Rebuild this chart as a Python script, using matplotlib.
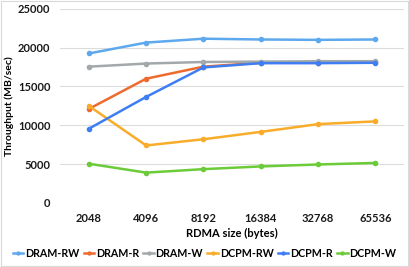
import matplotlib
matplotlib.use("Agg")
import matplotlib.pyplot as plt

sizes = ["2048", "4096", "8192", "16384", "32768", "65536"]
dram_rw = [19250, 20650, 21150, 21050, 21000, 21050]
dram_r = [12100, 16000, 17550, 18050, 18050, 18150]
dram_w = [17550, 17950, 18150, 18200, 18250, 18250]
dcpm_rw = [12500, 7400, 8200, 9150, 10150, 10500]
dcpm_r = [9550, 13650, 17450, 18000, 18000, 18050]
dcpm_w = [5050, 3900, 4350, 4700, 4950, 5150]

series = [
    ("DRAM-RW", dram_rw, "#5EA8EE"),
    ("DRAM-R", dram_r, "#EE6A2E"),
    ("DRAM-W", dram_w, "#A3A9AB"),
    ("DCPM-RW", dcpm_rw, "#F8AC2A"),
    ("DCPM-R", dcpm_r, "#3F7EF2"),
    ("DCPM-W", dcpm_w, "#6CCB38"),
]

plt.rcParams['font.family'] = ['Lato', 'DejaVu Sans']
plt.rcParams['font.weight'] = 'bold'

fig = plt.figure(figsize=(4.09, 2.67), dpi=100)
ax = fig.add_axes([0.147, 0.24, 0.841, 0.727])

x = list(range(len(sizes)))
for name, vals, col in series:
    ax.plot(x, vals, color=col, lw=1.8, marker='o', markersize=3, label=name)

ax.set_xlim(-0.5, len(sizes) - 0.5)
ax.set_ylim(0, 25000)
ax.set_yticks(range(0, 25001, 5000))
ax.set_xticks(x)
ax.set_xticklabels(sizes)
ax.tick_params(length=0, labelsize=8, colors='#1a1a1a', pad=7)
ax.grid(axis='y', color='#DCDCDC', lw=0.8)
ax.set_axisbelow(True)
for s in ax.spines.values():
    s.set_visible(False)
ax.set_xlabel("RDMA size (bytes)", fontsize=8, fontweight='bold', labelpad=3)
ax.set_ylabel("Throughput (MB/sec)", fontsize=7.5, fontweight='bold', labelpad=3)

fig.legend(loc='lower center', bbox_to_anchor=(0.5, -0.005), ncol=6, frameon=False,
           fontsize=7.7, handlelength=1.0, handletextpad=0.15, columnspacing=0.4,
           markerscale=0.7)

fig.patches.append(plt.Rectangle((0.002, 0.003), 0.995, 0.993, transform=fig.transFigure,
                                 fill=False, edgecolor='#D9D9D9', lw=0.8))

plt.savefig("out.png", dpi=100)
plt.close()
